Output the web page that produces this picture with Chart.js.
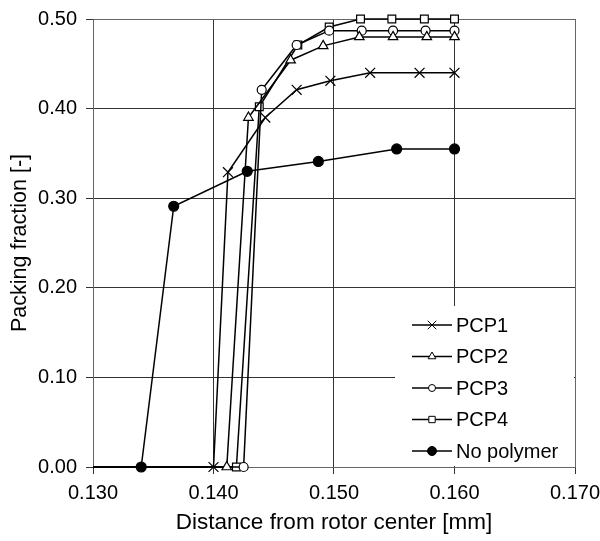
<!DOCTYPE html>
<html>
<head>
<meta charset="utf-8">
<script src="https://cdn.jsdelivr.net/npm/chart.js@4/dist/chart.umd.min.js"></script>
<style>
html,body{margin:0;padding:0;background:#fff;}
#wrap{width:600px;height:541px;position:relative;}
</style>
</head>
<body>
<div id="wrap"><canvas id="c" width="600" height="541"></canvas></div>
<script>
// Data
const seriesNames = ["PCP1", "PCP2", "PCP3", "PCP4", "No polymer"];
const pcp1X = [0.130, 0.1400, 0.1412, 0.1443, 0.1469, 0.1497, 0.1530, 0.1571, 0.1600];
const pcp1Y = [0, 0, 0.329, 0.390, 0.421, 0.431, 0.440, 0.440, 0.440];
const pcp2X = [0.130, 0.1411, 0.1429, 0.1464, 0.1491, 0.1521, 0.1549, 0.1577, 0.1600];
const pcp2Y = [0, 0, 0.390, 0.454, 0.470, 0.480, 0.480, 0.480, 0.480];
const pcp3X = [0.130, 0.1425, 0.1440, 0.1469, 0.1496, 0.1523, 0.1549, 0.1576, 0.1600];
const pcp3Y = [0, 0, 0.421, 0.471, 0.487, 0.487, 0.487, 0.487, 0.487];
const pcp4X = [0.130, 0.1419, 0.1438, 0.1470, 0.1496, 0.1522, 0.1548, 0.1575, 0.1600];
const pcp4Y = [0, 0, 0.402, 0.471, 0.491, 0.500, 0.500, 0.500, 0.500];
const noPolyX = [0.130, 0.1340, 0.1367, 0.1428, 0.1487, 0.1552, 0.1600];
const noPolyY = [0, 0, 0.291, 0.330, 0.341, 0.355, 0.355];
const xTicks = [0.130, 0.140, 0.150, 0.160, 0.170];
const yTicks = [0.00, 0.10, 0.20, 0.30, 0.40, 0.50];

const FONT = "'Liberation Sans', Arial, sans-serif";
const pts = (xs, ys) => xs.map((x, i) => ({x: x, y: ys[i]}));

const styles = [
  {pointStyle: 'crossRot', radius: 7, fill: '#fff', lr: 6},
  {pointStyle: 'triangle', radius: 5.5, fill: '#fff', lr: 4.5},
  {pointStyle: 'circle', radius: 4.5, fill: '#fff', lr: 3.5},
  {pointStyle: 'rect', radius: 5.5, fill: '#fff', lr: 4.5},
  {pointStyle: 'circle', radius: 5, fill: '#000', lr: 4.5}
];
const allData = [pts(pcp1X, pcp1Y), pts(pcp2X, pcp2Y), pts(pcp3X, pcp3Y), pts(pcp4X, pcp4Y), pts(noPolyX, noPolyY)];

const datasets = allData.map((d, i) => ({
  label: seriesNames[i],
  data: d,
  borderColor: '#000',
  borderWidth: 1.5,
  pointBorderColor: '#000',
  pointBorderWidth: 1.2,
  pointBackgroundColor: styles[i].fill,
  pointStyle: styles[i].pointStyle,
  pointRadius: ctx => ctx.dataIndex === 0 ? 0 : styles[i].radius,
  showLine: true,
  tension: 0,
  clip: false
}));

const framePlugin = {
  id: 'frame',
  beforeDatasetsDraw(chart) {
    const a = chart.chartArea, ctx = chart.ctx;
    ctx.save();
    ctx.strokeStyle = '#666';
    ctx.lineWidth = 1;
    ctx.strokeRect(Math.round(a.left) + 0.5, Math.round(a.top) + 0.5, Math.round(a.right - a.left), Math.round(a.bottom - a.top));
    ctx.restore();
  },
  afterDatasetsDraw(chart) {
    const a = chart.chartArea, ctx = chart.ctx;
    ctx.save();
    const bx = a.right - 180, by = a.bottom - 161;
    ctx.fillStyle = '#fff';
    ctx.fillRect(bx, by, a.right - bx - 1, a.bottom - by - 1);
    ctx.font = '20px ' + FONT;
    ctx.textBaseline = 'middle';
    ctx.fillStyle = '#000';
    seriesNames.forEach((name, i) => {
      const y = by + 19 + i * 31.5;
      const lx0 = bx + 17, lx1 = bx + 57, mx = (lx0 + lx1) / 2;
      ctx.strokeStyle = '#000';
      ctx.lineWidth = 1.3;
      ctx.beginPath(); ctx.moveTo(lx0, y); ctx.lineTo(lx1, y); ctx.stroke();
      ctx.fillStyle = styles[i].fill;
      ctx.strokeStyle = '#000';
      ctx.lineWidth = 1;
      Chart.helpers.drawPoint(ctx, {pointStyle: styles[i].pointStyle, radius: styles[i].lr, rotation: 0, borderWidth: 1}, mx, y);
      ctx.fillStyle = '#000';
      ctx.fillText(name, lx1 + 4, y + 1);
    });
    ctx.restore();
  }
};

new Chart(document.getElementById('c'), {
  type: 'scatter',
  data: {datasets: datasets},
  options: {
    responsive: false,
    animation: false,
    devicePixelRatio: 1,
    layout: {padding: {left: 0, right: 25, top: 19, bottom: 0}},
    plugins: {legend: {display: false}, tooltip: {enabled: false}},
    scales: {
      x: {
        type: 'linear', min: 0.130, max: 0.170,
        afterBuildTicks: s => { s.ticks = xTicks.map(v => ({value: v})); },
        afterFit: s => { s.height = 74; s.paddingLeft = 0; s.paddingRight = 0; },
        ticks: {color: '#000', font: {family: FONT, size: 20}, padding: 7, maxRotation: 0,
          callback: v => Number(v).toFixed(3)},
        grid: {color: '#333', lineWidth: 1, tickLength: 7, tickColor: '#333'},
        border: {color: '#333'},
        title: {display: true, text: 'Distance from rotor center [mm]', color: '#000',
          font: {family: FONT, size: 22.5}, padding: {top: 0, bottom: 5}}
      },
      y: {
        type: 'linear', min: 0, max: 0.5,
        afterBuildTicks: s => { s.ticks = yTicks.map(v => ({value: v})); },
        afterFit: s => { s.width = 93; s.paddingTop = 0; s.paddingBottom = 0; },
        ticks: {color: '#000', font: {family: FONT, size: 20}, padding: 9,
          callback: v => Number(v).toFixed(2)},
        grid: {color: '#333', lineWidth: 1, tickLength: 7, tickColor: '#333'},
        border: {color: '#333'},
        title: {display: true, text: 'Packing fraction [-]', color: '#000',
          font: {family: FONT, size: 21.5}, padding: {top: 7, bottom: 0}}
      }
    }
  },
  plugins: [framePlugin]
});
</script>
</body>
</html>
